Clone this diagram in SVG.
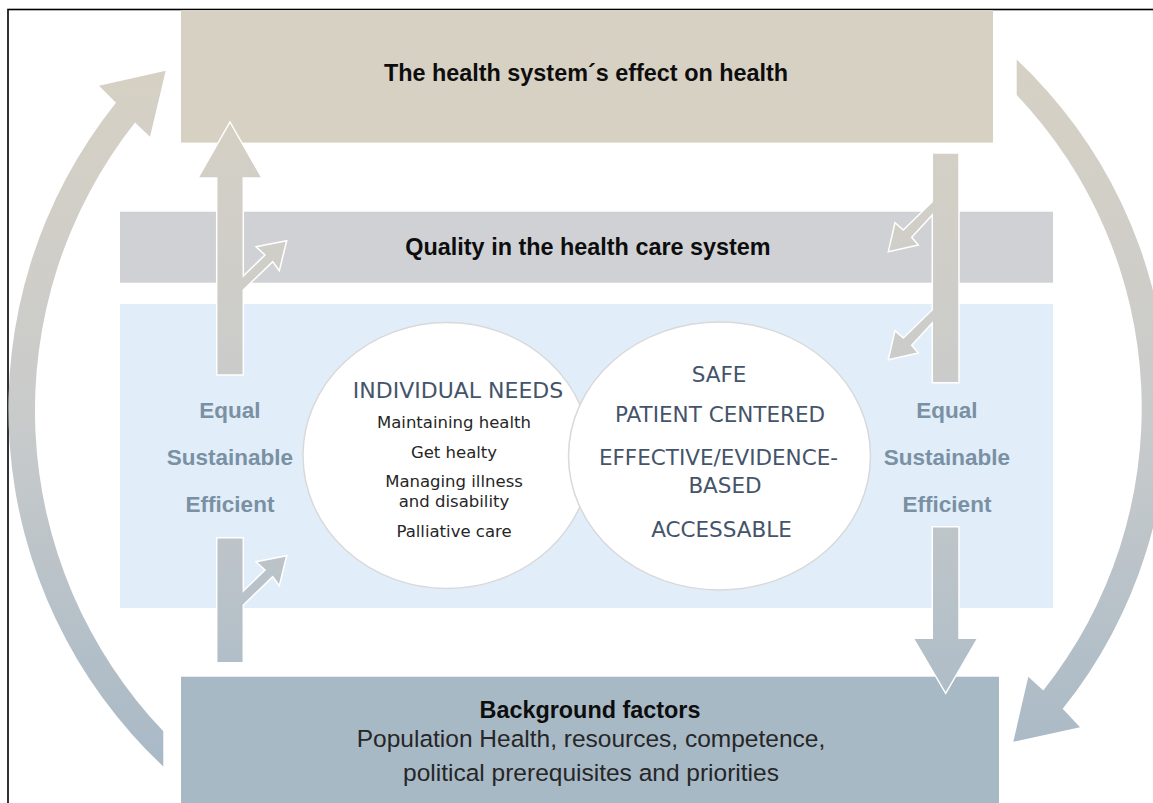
<svg xmlns="http://www.w3.org/2000/svg" width="1153" height="803" viewBox="0 0 1153 803">
<defs>
<linearGradient id="grad" gradientUnits="userSpaceOnUse" x1="0" y1="60" x2="0" y2="770">
<stop offset="0" stop-color="#d7d1c4"/>
<stop offset="0.5" stop-color="#c9cbcb"/>
<stop offset="1" stop-color="#a8b9c6"/>
</linearGradient>
<style>
.bold{font-family:"Liberation Sans",Arial,sans-serif;font-weight:bold;text-anchor:middle}
.title{font-size:23.4px;fill:#0d0d0d}
.side{font-size:22.5px;fill:#7a90a3}
.reg{font-family:"Liberation Sans",Arial,sans-serif;text-anchor:middle;font-size:24.5px;fill:#262626}
.caps{font-family:"DejaVu Sans",sans-serif;text-anchor:middle;font-size:21.5px;fill:#44546a}
.small{font-family:"DejaVu Sans",sans-serif;text-anchor:middle;font-size:16.5px;fill:#262626}
.arrow{fill:url(#grad);stroke:#ffffff;stroke-width:1.5;stroke-linejoin:miter}
.arc{fill:url(#grad)}
.circ{fill:#ffffff;stroke:#d9d9d9;stroke-width:1.5}
</style>
</defs>
<rect x="8" y="9.5" width="1200" height="900" fill="none" stroke="#000000" stroke-width="1.6"/>
<g id="node-effect">
<rect x="181" y="10" width="812" height="132.6" fill="#d7d1c4"/>
<text class="bold title" x="586" y="81">The health system´s effect on health</text>
</g>
<g id="node-quality">
<rect x="120" y="211.7" width="933" height="71" fill="#d0d1d4"/>
<text class="bold title" x="588" y="255">Quality in the health care system</text>
</g>
<g id="node-dimensions">
<rect x="120" y="304" width="933" height="304" fill="#e1eefa"/>
</g>
<g id="node-background">
<rect x="181" y="676.7" width="818" height="140" fill="#a8b9c6"/>
<text class="bold title" x="590" y="717.5">Background factors</text>
<text class="reg" x="591" y="746.5">Population Health, resources, competence,</text>
<text class="reg" x="591" y="781">political prerequisites and priorities</text>
</g>
<g id="connectors">
<path class="arc" d="M163.3 766.4 A489.8 489.8 0 0 1 116 102.7 L99 85.8 L165.7 70.7 L150 136.7 L135 122.5 A464.8 464.8 0 0 0 163.3 731.2 Z"/>
<path class="arc" d="M1016.7 59.6 A479.5 479.5 0 0 1 1062.7 708.8 L1080 727.2 L1013.3 741.8 L1028.3 676.7 L1043.3 690.5 A454.5 454.5 0 0 0 1016.7 95 Z"/>
<polygon class="arrow" points="230,122 262,178 243.3,178 243.3,276 265,255 256,246.7 286.7,240.7 279.3,270.7 272.7,261.7 243.3,290 243.3,375 216.7,375 216.7,178 198,178"/>
<polygon class="arrow" points="216.7,537.7 243.3,537.7 243.3,591 265,570 256,561.7 286.7,555.7 279.3,585.7 272.7,576.7 243.3,605 243.3,662.7 216.7,662.7"/>
<polygon class="arrow" points="932.3,153 932.3,201.7 903.3,230 895,222.7 888.3,251.7 918.3,245 911.7,237.3 932.3,215 932.3,309.7 903.3,338 895,330.7 888.3,359.7 918.3,353 911.7,345.3 932.3,323 932.3,382.7 959,382.7 959,153"/>
<polygon class="arrow" points="932.3,526.7 959,526.7 959,638.3 977.7,638.3 945.7,693.3 913.3,638.3 932.3,638.3"/>
</g>
<g id="node-side-left">
<text class="bold side" x="230" y="418">Equal</text>
<text class="bold side" x="230" y="465">Sustainable</text>
<text class="bold side" x="230" y="511.5">Efficient</text>
</g>
<g id="node-side-right">
<text class="bold side" x="947" y="418">Equal</text>
<text class="bold side" x="947" y="465">Sustainable</text>
<text class="bold side" x="947" y="511.5">Efficient</text>
</g>
<g id="node-individual-needs">
<ellipse class="circ" cx="447" cy="455.5" rx="144" ry="133"/>
<text class="caps" x="458" y="398" style="font-size:22px">INDIVIDUAL NEEDS</text>
<text class="small" x="454" y="428.3">Maintaining health</text>
<text class="small" x="454" y="457.7">Get healty</text>
<text class="small" x="454" y="486.7">Managing illness</text>
<text class="small" x="454" y="506.5">and disability</text>
<text class="small" x="454" y="536.7">Palliative care</text>
</g>
<g id="node-quality-dimensions">
<ellipse class="circ" cx="719.5" cy="456" rx="151" ry="134"/>
<text class="caps" x="719" y="382">SAFE</text>
<text class="caps" x="720" y="421.7">PATIENT CENTERED</text>
<text class="caps" x="718.5" y="465">EFFECTIVE/EVIDENCE-</text>
<text class="caps" x="725" y="492.7">BASED</text>
<text class="caps" x="721.5" y="536.7">ACCESSABLE</text>
</g>
</svg>
